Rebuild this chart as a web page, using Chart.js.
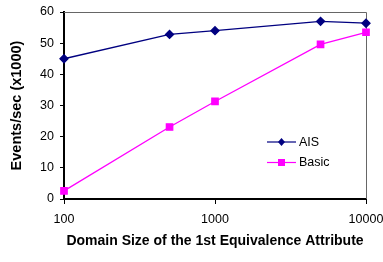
<!DOCTYPE html>
<html><head><meta charset="utf-8">
<script src="https://cdn.jsdelivr.net/npm/chart.js@4"></script>
<style>html,body{margin:0;padding:0;background:#fff}#wrap{width:383px;height:262px}</style>
</head><body><div id="wrap"><canvas id="c" width="383" height="262"></canvas></div>
<script>
const domainSizes = [100, 500, 1000, 5000, 10000];
const aisValues = [45, 52.8, 54, 57, 56.4];
const basicValues = [2.6, 23.1, 31.3, 49.6, 53.5];
const xTicks = [100, 1000, 10000];
const seriesNames = ['AIS', 'Basic'];

const FONT = 'Liberation Sans, Arial, sans-serif';

const framePlugin = {
  id: 'frame',
  beforeDatasetsDraw(chart) {
    const {ctx, chartArea: a} = chart;
    ctx.save();
    ctx.strokeStyle = '#666';
    ctx.lineWidth = 1;
    ctx.beginPath();
    ctx.moveTo(a.left, a.top + 0.5);
    ctx.lineTo(a.right + 0.5, a.top + 0.5);
    ctx.lineTo(a.right + 0.5, a.bottom);
    ctx.stroke();
    ctx.restore();
  }
};

const legendPlugin = {
  id: 'inLegend',
  afterDraw(chart) {
    const {ctx} = chart;
    const x0 = 267, x1 = 296, ys = [142, 162.5];
    chart.data.datasets.forEach((ds, i) => {
      const y = ys[i];
      ctx.save();
      ctx.strokeStyle = ds.borderColor;
      ctx.lineWidth = 1.2;
      ctx.beginPath(); ctx.moveTo(x0, y); ctx.lineTo(x1, y); ctx.stroke();
      const cx = (x0 + x1) / 2;
      ctx.fillStyle = ds.pointBackgroundColor;
      if (ds.pointStyle === 'rect') {
        ctx.fillRect(cx - 3.5, y - 3.5, 7, 7);
      } else {
        ctx.beginPath();
        ctx.moveTo(cx, y - 4); ctx.lineTo(cx + 3.5, y); ctx.lineTo(cx, y + 4); ctx.lineTo(cx - 3.5, y);
        ctx.closePath(); ctx.fill();
      }
      ctx.fillStyle = '#000';
      ctx.font = '12.5px ' + FONT;
      ctx.textBaseline = 'middle';
      ctx.textAlign = 'left';
      ctx.fillText(ds.label, x1 + 3, y + 0.5);
      ctx.restore();
    });
  }
};

new Chart(document.getElementById('c'), {
  type: 'line',
  data: {
    datasets: [
      {
        label: seriesNames[0],
        data: domainSizes.map((x, i) => ({x, y: aisValues[i]})),
        borderColor: '#000080', backgroundColor: '#000080',
        pointBackgroundColor: '#000080', pointBorderColor: '#000080',
        pointStyle: 'rectRot', pointRadius: 4, borderWidth: 1.3, tension: 0
      },
      {
        label: seriesNames[1],
        data: domainSizes.map((x, i) => ({x, y: basicValues[i]})),
        borderColor: '#FF00FF', backgroundColor: '#FF00FF',
        pointBackgroundColor: '#FF00FF', pointBorderColor: '#FF00FF',
        pointStyle: 'rect', pointRadius: 4.5, borderWidth: 1.3, tension: 0
      }
    ]
  },
  options: {
    responsive: false,
    animation: false,
    events: [],
    clip: false,
    layout: {padding: {left: 0, right: 17, top: 12, bottom: 0}},
    plugins: {legend: {display: false}, tooltip: {enabled: false}},
    scales: {
      x: {
        type: 'logarithmic', min: 100, max: 10000,
        afterBuildTicks: s => { s.ticks = xTicks.map(v => ({value: v})); },
        afterFit: s => { s.height = 63; s.paddingLeft = 0; s.paddingRight = 0; },
        grid: {display: true, drawOnChartArea: false, drawTicks: true, tickLength: 5, color: '#000', lineWidth: 1},
        border: {display: true, color: '#000', width: 2},
        ticks: {color: '#000', font: {family: FONT, size: 12.5}, padding: 8, maxRotation: 0, autoSkip: false,
          callback: v => String(v)},
        title: {display: true, text: 'Domain Size of the 1st Equivalence Attribute', color: '#000',
          font: {family: FONT, size: 14, weight: 'bold'}, padding: {top: 0, bottom: 12}}
      },
      y: {
        min: 0, max: 60,
        afterFit: s => { s.width = 64; s.paddingTop = 0; s.paddingBottom = 0; },
        grid: {display: true, drawOnChartArea: false, drawTicks: true, tickLength: 4, color: '#000', lineWidth: 1},
        border: {display: true, color: '#000', width: 2},
        ticks: {stepSize: 10, color: '#000', font: {family: FONT, size: 12.5}, padding: 6},
        title: {display: true, text: 'Events/sec (x1000)', color: '#000',
          font: {family: FONT, size: 14.5, weight: 'bold'}, padding: {top: 8, bottom: 0}}
      }
    }
  },
  plugins: [framePlugin, legendPlugin]
});
</script></body></html>
